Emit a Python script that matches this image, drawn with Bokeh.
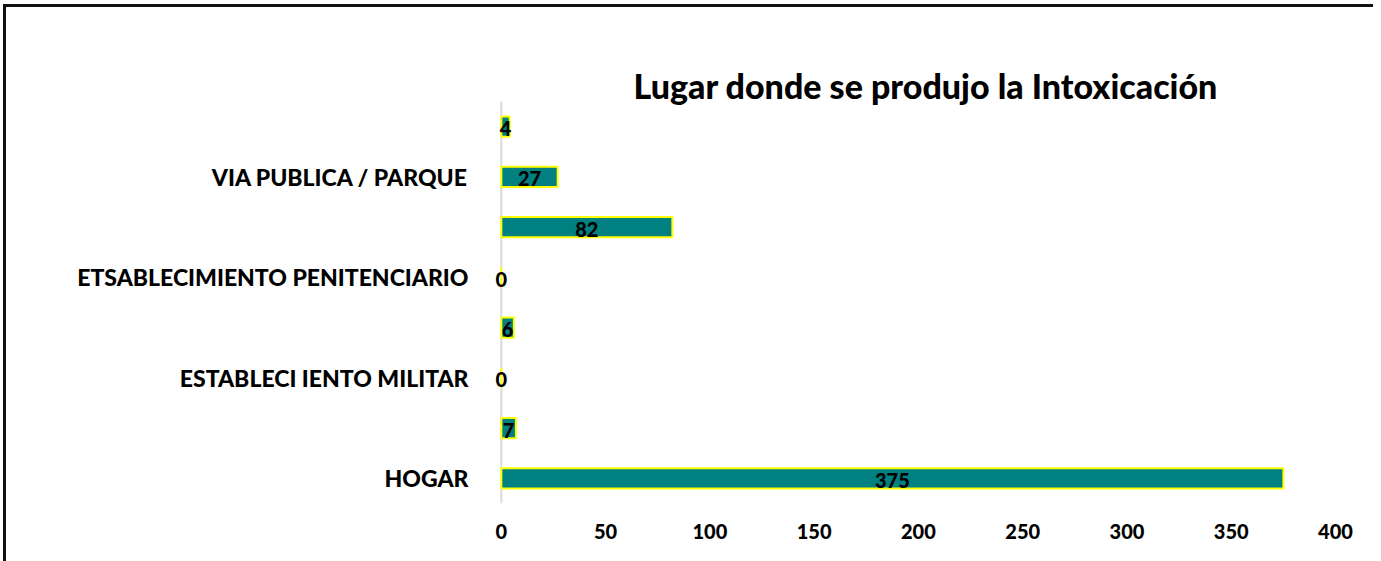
from bokeh.plotting import figure
from bokeh.models import ColumnDataSource, FixedTicker, Range1d, Span
from bokeh.embed import file_html
from bokeh.resources import INLINE
from bokeh.core.properties import value

# Data (bottom to top)
categories = ["HOGAR", "", "ESTABLECI IENTO MILITAR", "", "ETSABLECIMIENTO PENITENCIARIO",
              "", "VIA PUBLICA / PARQUE", ""]
counts = [375, 7, 0, 6, 0, 82, 27, 4]
x_ticks = [0, 50, 100, 150, 200, 250, 300, 350, 400]
title_text = "Lugar donde se produjo la Intoxicación"

FONT = "Lato Black, Lato"

positions = list(range(len(categories)))
src = ColumnDataSource(dict(
    y=positions,
    v=counts,
    mid=[c / 2 for c in counts],
    lab=[str(c) for c in counts],
))

p = figure(
    output_backend="svg", toolbar_location=None,
    frame_width=855, frame_height=402,
    min_border_left=474, min_border_right=38, min_border_top=94, min_border_bottom=58,
    x_range=Range1d(-10, 400), y_range=Range1d(-0.5, len(categories) - 0.5),
    title=title_text,
)
p.styles = {"border-top": "3px solid #111111", "border-left": "3px solid #111111",
            "margin-left": "3px", "margin-top": "4px"}
p.outline_line_color = None
p.xgrid.grid_line_color = None
p.ygrid.grid_line_color = None
p.background_fill_color = "white"
p.border_fill_color = "white"

p.title.align = "left"
p.title.offset = 153
p.title.standoff = -8
p.title.text_font = FONT
p.title.text_font_style = "bold"
p.title.text_font_size = "34px"
p.title.text_color = "black"

# value axis line at zero
p.add_layout(Span(location=0, dimension="height", line_color="#d9d9d9", line_width=2,
                  level="underlay"))

p.hbar(y="y", right="v", left=0, height=0.4, source=src,
       fill_color="#008080", line_color="#FFFF00", line_width=2)

p.text(x="mid", y="y", text="lab", source=src, text_align="center",
       text_baseline="middle", y_offset=2, text_font=value(FONT),
       text_font_style="bold", text_font_size="20px", text_color="black")

# x axis
p.xaxis.ticker = FixedTicker(ticks=x_ticks)
p.xaxis.axis_line_color = None
p.xaxis.major_tick_line_color = None
p.xaxis.minor_tick_line_color = None
p.xaxis.major_label_text_font = FONT
p.xaxis.major_label_text_font_style = "bold"
p.xaxis.major_label_text_font_size = "20px"
p.xaxis.major_label_text_color = "black"
p.xaxis.major_label_standoff = 14

# category axis
p.yaxis.ticker = FixedTicker(ticks=positions)
p.yaxis.major_label_overrides = {i: c for i, c in zip(positions, categories)}
p.yaxis.axis_line_color = None
p.yaxis.major_tick_line_color = None
p.yaxis.minor_tick_line_color = None
p.yaxis.major_label_text_font = FONT
p.yaxis.major_label_text_font_style = "bold"
p.yaxis.major_label_text_font_size = "23px"
p.yaxis.major_label_text_color = "black"
p.yaxis.major_label_standoff = 6

open("out.html", "w").write(file_html(p, INLINE))
